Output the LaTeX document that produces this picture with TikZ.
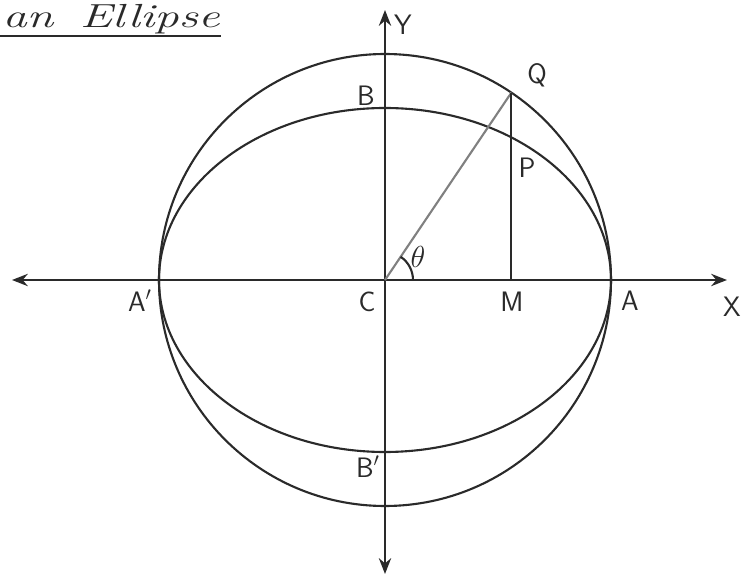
\documentclass[tikz,border=0pt]{standalone}
\usetikzlibrary{arrows.meta}
\definecolor{ink}{HTML}{2A2A2A}
\tikzset{
    lbl/.style={font=\sffamily\fontsize{16}{18}\selectfont, text=ink},
}
\begin{document}
\begin{tikzpicture}[line width=1.2pt, draw=ink, >={Stealth[length=9pt,width=7pt]}]
    \useasboundingbox (-7.7,-5.92) rectangle (7.22,5.6);
    % axes
    \coordinate (C) at (0,0);
    \coordinate (xl) at (-7.46,0);
    \coordinate (xr) at (6.84,0);
    \coordinate (yt) at (0,5.4);
    \coordinate (yb) at (0,-5.88);
    \draw[ink,<->] (xl) -- (xr);
    \draw[ink,<->] (yb) -- (yt);
    % auxiliary circle and ellipse
    \draw[ink] (C) circle (4.52);
    \draw[ink] (C) ellipse (4.52 and 3.44);
    \coordinate (Q) at (56:4.52);
    \coordinate (M) at (Q |- C);
    \draw[gray] (C) -- (Q);
    \draw[ink] (Q) -- (M);
    \draw[ink] (0.56,0) arc (0:56:0.56);
    % labels
    \node[lbl] (lY) at (0.36,5.1) {Y};
    \node[lbl] (lX) at (6.94,-0.54) {X};
    \node[lbl] (lA) at (4.9,-0.42) {A};
    \node[lbl] (lM) at (2.54,-0.44) {M};
    \node[lbl] (lC) at (-0.36,-0.44) {C};
    \node[lbl] (lA1) at (-4.9,-0.42) {A$'$};
    \node[lbl] (lB) at (-0.38,3.68) {B};
    \node[lbl] (lB1) at (-0.34,-3.74) {B$'$};
    \node[lbl] (lQ) at (3.04,4.1) {Q};
    \node[lbl] (lP) at (2.84,2.24) {P};
    \node[lbl, font=\fontsize{19}{20}\selectfont] (lth) at (0.66,0.46) {$\theta$};
    % title
    \node[anchor=base west, font=\itshape\fontsize{19}{20}\selectfont, text=ink,
          inner sep=0pt, xscale=1.45, transform shape]
        (title) at (-7.68,5.04) {an\hspace{0.55em}Ellipse};
    \draw[ink] (-7.7,4.88) -- (title.east |- 0,4.88);
\end{tikzpicture}
\end{document}
